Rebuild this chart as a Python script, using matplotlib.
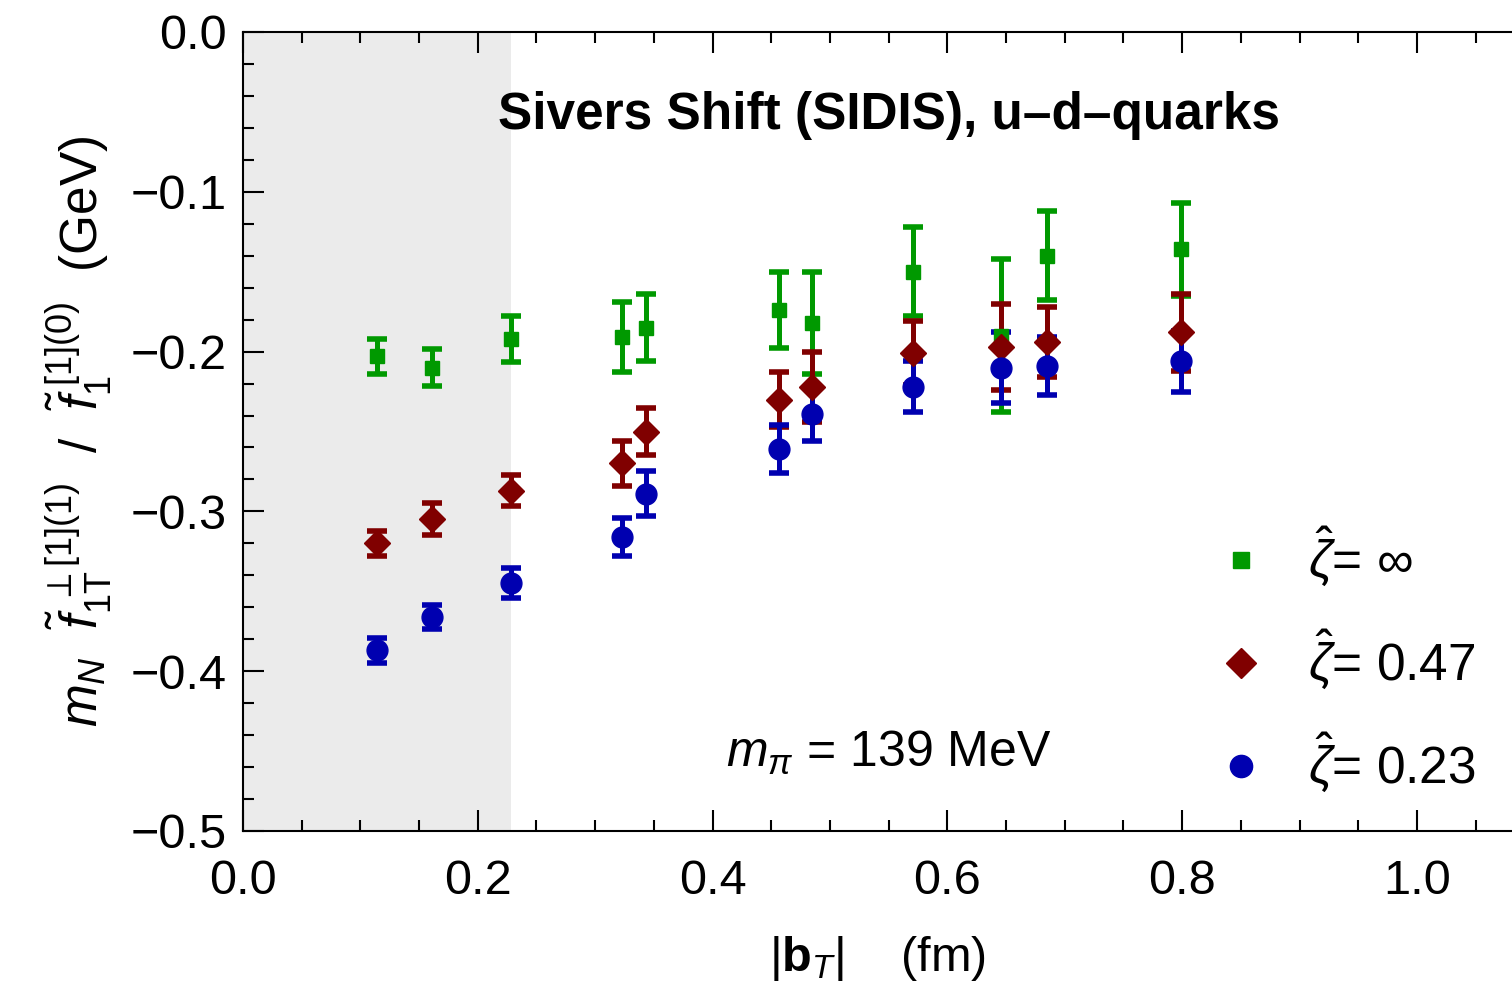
import matplotlib
matplotlib.use('Agg')
import matplotlib.pyplot as plt
from matplotlib.lines import Line2D
from matplotlib.ticker import MultipleLocator, FuncFormatter

plt.rcParams['font.family'] = ['Liberation Sans', 'DejaVu Sans']
plt.rcParams['mathtext.fontset'] = 'custom'
plt.rcParams['mathtext.rm'] = 'Liberation Sans'
plt.rcParams['mathtext.it'] = 'Liberation Sans:italic'
plt.rcParams['mathtext.bf'] = 'Liberation Sans:bold'

# |b_T| in fm
bT = [0.114, 0.161, 0.228, 0.323, 0.343, 0.457, 0.485, 0.571, 0.646, 0.685, 0.799]

# zeta = infinity
y_inf = [-0.203, -0.210, -0.192, -0.191, -0.185, -0.174, -0.182, -0.150, -0.190, -0.140, -0.136]
e_inf = [0.011, 0.0115, 0.0145, 0.022, 0.021, 0.024, 0.032, 0.028, 0.048, 0.028, 0.029]

# zeta = 0.47
y_047 = [-0.320, -0.305, -0.287, -0.270, -0.250, -0.230, -0.222, -0.201, -0.197, -0.194, -0.188]
e_047 = [0.008, 0.010, 0.0097, 0.014, 0.015, 0.017, 0.022, 0.020, 0.027, 0.022, 0.024]

# zeta = 0.23
y_023 = [-0.387, -0.366, -0.345, -0.316, -0.289, -0.261, -0.239, -0.222, -0.210, -0.209, -0.206]
e_023 = [0.008, 0.0075, 0.0094, 0.012, 0.014, 0.015, 0.017, 0.016, 0.022, 0.018, 0.019]

shade_max = 0.228

fig = plt.figure(figsize=(15.12, 9.93), dpi=100)
ax = fig.add_axes([243 / 1512, (993 - 831) / 993, (1512 - 243) / 1512, 799 / 993])

ax.axvspan(0, shade_max, color='#ebebeb', zorder=0, lw=0)

series = [
    (y_inf, e_inf, '#009900', 's', 10, 12, r'$\hat{\zeta}$= ' + '\u221e'),
    (y_047, e_047, '#800000', 'D', 13, 15, r'$\hat{\zeta}$= 0.47'),
    (y_023, e_023, '#0000b0', 'o', 15, 16, r'$\hat{\zeta}$= 0.23'),
]
handles = []
for y, e, c, m, ms, lms, lab in series:
    ax.errorbar(bT, y, yerr=e, fmt=m, color=c, ms=ms, elinewidth=3.6,
                capsize=7, capthick=4, zorder=3)
    handles.append(Line2D([], [], ls='none', marker=m, color=c, ms=lms, label=lab))

ax.set_xlim(0, 1.081)
ax.set_ylim(-0.5, 0.0)
ax.xaxis.set_major_locator(MultipleLocator(0.2))
ax.xaxis.set_minor_locator(MultipleLocator(0.05))
ax.yaxis.set_major_locator(MultipleLocator(0.1))
ax.yaxis.set_minor_locator(MultipleLocator(0.02))
fmt = FuncFormatter(lambda v, p: ('%.1f' % v).replace('-', '\u2212'))
ax.xaxis.set_major_formatter(fmt)
ax.yaxis.set_major_formatter(fmt)
ax.tick_params(which='both', direction='in', top=True, right=False, width=1.5)
ax.tick_params(axis='x', labelsize=35, pad=20)
ax.tick_params(axis='y', labelsize=35, pad=12)
ax.tick_params(which='major', length=15)
ax.tick_params(which='minor', length=8)
ax.spines['right'].set_visible(False)
for s in ['left', 'top', 'bottom']:
    ax.spines[s].set_linewidth(1.5)

ax.set_xlabel(r'$|\mathbf{b}_{T}|$    (fm)', fontsize=35, labelpad=22)
ax.set_ylabel(r'$m_N\ \ \tilde{f}_{1\mathrm{T}}^{\ \perp[1](1)}\ \ /\ \ \tilde{f}_1^{\ [1](0)}$  (GeV)',
              fontsize=37, labelpad=12)

ax.text(0.55, -0.052, 'Sivers Shift (SIDIS), u\u2013d\u2013quarks', fontsize=37,
        fontweight='bold', ha='center', va='center')
ax.text(0.55, -0.451, r'$m_{\pi}$ = 139 MeV', fontsize=36, ha='center', va='center')

ax.legend(handles=handles, loc='center left', bbox_to_anchor=(0.766, 0.214),
          fontsize=37, frameon=False, handlelength=1.0, handletextpad=0.8,
          labelspacing=0.75, borderpad=0, borderaxespad=0)

fig.savefig('out.png', dpi=100)
